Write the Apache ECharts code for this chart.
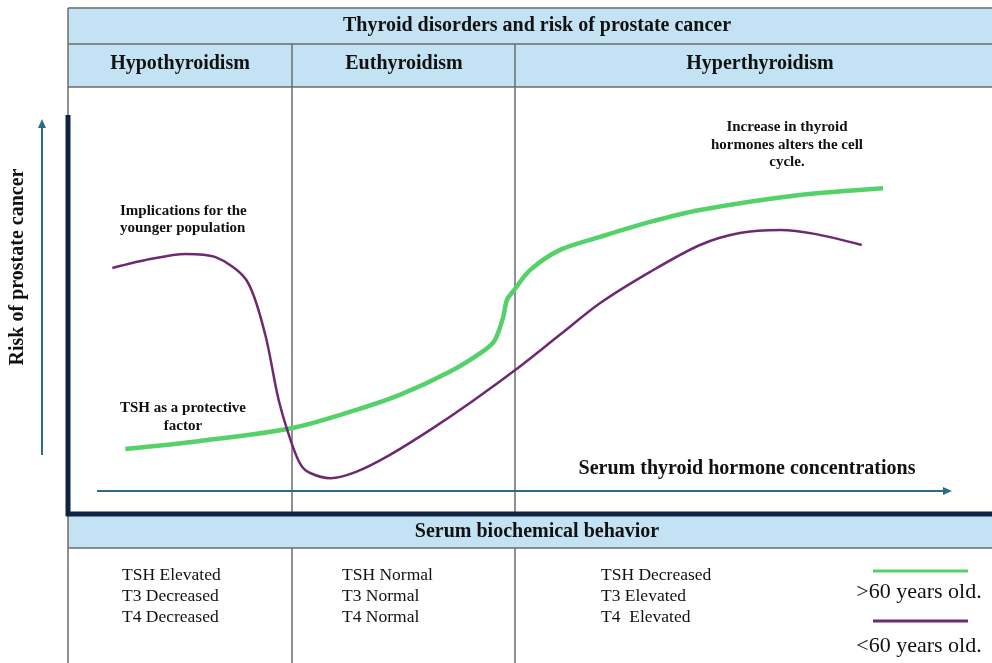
<!DOCTYPE html>
<html>
<head>
<meta charset="utf-8">
<script src="https://cdn.jsdelivr.net/npm/echarts@6/dist/echarts.min.js"></script>
<style>
  html, body { margin: 0; padding: 0; background: #fff; }
  #chart { width: 992px; height: 663px; }
</style>
</head>
<body>
<div id="chart"></div>
<script>
// hormone concentration (0-100) vs relative risk (0-100)
const olderX = [6.2, 14.3, 24.2, 30.5, 35.9, 41.3, 45.1, 46.2, 47.1, 47.5, 48.3, 50.0, 53.2, 57.6, 63.0, 68.4, 79.2, 88.2];
const olderY = [15.2, 17.1, 20.1, 23.9, 27.9, 33.3, 38.4, 40.7, 46.1, 50.1, 52.5, 57.1, 61.8, 64.9, 68.4, 71.2, 74.7, 76.3];
const youngerX = [4.8, 8.9, 12.7, 15.9, 19.3, 21.3, 22.8, 24.2, 25.2, 26.2, 28.4, 31.1, 34.8, 39.2, 43.5, 48.4, 53.2, 57.6, 63.0, 68.4, 72.7, 77.1, 80.8, 85.9];
const youngerY = [57.6, 59.7, 60.9, 60.2, 54.8, 42.4, 26.7, 16.6, 11.5, 9.6, 8.4, 9.8, 13.8, 19.7, 26.0, 33.7, 41.9, 49.4, 56.7, 63.0, 65.8, 66.5, 65.6, 63.0];

const stages = ['Hypothyroidism', 'Euthyroidism', 'Hyperthyroidism'];
const labs = [
  ['TSH Elevated', 'T3 Decreased', 'T4 Decreased'],
  ['TSH Normal', 'T3 Normal', 'T4 Normal'],
  ['TSH Decreased', 'T3 Elevated', 'T4  Elevated']
];
const groups = ['>60 years old.', '<60 years old.'];

const GREEN = '#55d169';
const PURPLE = '#6e2a70';
const NAVY = '#0f2444';
const TEAL = '#2c6b82';
const BLUE = '#c3e3f4';
const GREY = '#6b6b6b';
const serif = 'Liberation Serif, Times New Roman, serif';

const chart = echarts.init(document.getElementById('chart'));

const g = [];
// header cells
g.push({ type: 'rect', shape: { x: 68, y: 8, width: 940, height: 79 }, style: { fill: BLUE }, z: 0 });
g.push({ type: 'rect', shape: { x: 68, y: 516, width: 940, height: 32 }, style: { fill: BLUE }, z: 0 });
function hline(y, x1, x2) {
  g.push({ type: 'line', shape: { x1: x1, y1: y, x2: x2, y2: y }, style: { stroke: GREY, lineWidth: 1.5 }, z: 1 });
}
function vline(x, y1, y2) {
  g.push({ type: 'line', shape: { x1: x, y1: y1, x2: x, y2: y2 }, style: { stroke: GREY, lineWidth: 1.5 }, z: 1 });
}
hline(8, 68, 992);
hline(44, 68, 992);
hline(87, 68, 992);
hline(548, 68, 992);
vline(68, 8, 663);
[292, 515].forEach(function (x) { vline(x, 44, 514); vline(x, 548, 663); });
// main axes (thick)
g.push({ type: 'line', shape: { x1: 68, y1: 115, x2: 68, y2: 516 }, style: { stroke: NAVY, lineWidth: 5 }, z: 3 });
g.push({ type: 'line', shape: { x1: 66, y1: 514, x2: 992, y2: 514 }, style: { stroke: NAVY, lineWidth: 5 }, z: 3 });
// arrows
g.push({ type: 'line', shape: { x1: 42, y1: 455, x2: 42, y2: 126 }, style: { stroke: TEAL, lineWidth: 2 }, z: 3 });
g.push({ type: 'polygon', shape: { points: [[42, 119], [38, 128], [46, 128]] }, style: { fill: TEAL }, z: 3 });
g.push({ type: 'line', shape: { x1: 97, y1: 491, x2: 944, y2: 491 }, style: { stroke: TEAL, lineWidth: 2 }, z: 3 });
g.push({ type: 'polygon', shape: { points: [[952, 491], [943, 487], [943, 495]] }, style: { fill: TEAL }, z: 3 });

function txt(t, x, y, size, bold, align, lh) {
  const o = { type: 'text', x: x, y: y, z: 4, style: {
    text: t, fill: '#111', textAlign: align || 'left', textVerticalAlign: 'middle',
    font: (bold ? 'bold ' : '') + size + 'px ' + serif, lineHeight: lh || size + 2 } };
  g.push(o);
  return o;
}
txt('Thyroid disorders and risk of prostate cancer', 537, 26, 20, true, 'center');
txt(stages[0], 180, 64, 20, true, 'center');
txt(stages[1], 404, 64, 20, true, 'center');
txt(stages[2], 760, 64, 20, true, 'center');
txt('Serum biochemical behavior', 537, 532, 20, true, 'center');
const colX = [122, 342, 601];
labs.forEach(function (col, i) {
  col.forEach(function (t, j) { txt(t, colX[i], 575 + j * 21, 17.5, false, 'left'); });
});
txt('Serum thyroid hormone concentrations', 747, 469, 20, true, 'center');
const yl = txt('Risk of prostate cancer', 18, 267, 20, true, 'center');
yl.rotation = Math.PI / 2;
txt('Implications for the\nyounger population', 120, 220, 15, true, 'left', 17);
txt('TSH as a protective\nfactor', 183, 417, 15, true, 'center', 18);
txt('Increase in thyroid\nhormones alters the cell\ncycle.', 787, 145, 15, true, 'center', 17.5);

// legend
g.push({ type: 'line', shape: { x1: 873, y1: 571, x2: 968, y2: 571 }, style: { stroke: GREEN, lineWidth: 3 }, z: 3 });
g.push({ type: 'line', shape: { x1: 873, y1: 621, x2: 968, y2: 621 }, style: { stroke: PURPLE, lineWidth: 3 }, z: 3 });
txt(groups[0], 919, 592, 22, false, 'center');
txt(groups[1], 919, 646, 22, false, 'center');

chart.setOption({
  animation: false,
  grid: { left: 68, right: 0, top: 87, bottom: 149 },
  xAxis: { type: 'value', min: 0, max: 100, show: false },
  yAxis: { type: 'value', min: 0, max: 100, show: false },
  graphic: g,
  series: [
    {
      name: groups[0], type: 'line', smooth: 0.3, symbol: 'none', z: 5,
      lineStyle: { color: GREEN, width: 4.5 },
      data: olderX.map(function (x, i) { return [x, olderY[i]]; })
    },
    {
      name: groups[1], type: 'line', smooth: 0.3, symbol: 'none', z: 5,
      lineStyle: { color: PURPLE, width: 2.5 },
      data: youngerX.map(function (x, i) { return [x, youngerY[i]]; })
    }
  ]
});
</script>
</body>
</html>
